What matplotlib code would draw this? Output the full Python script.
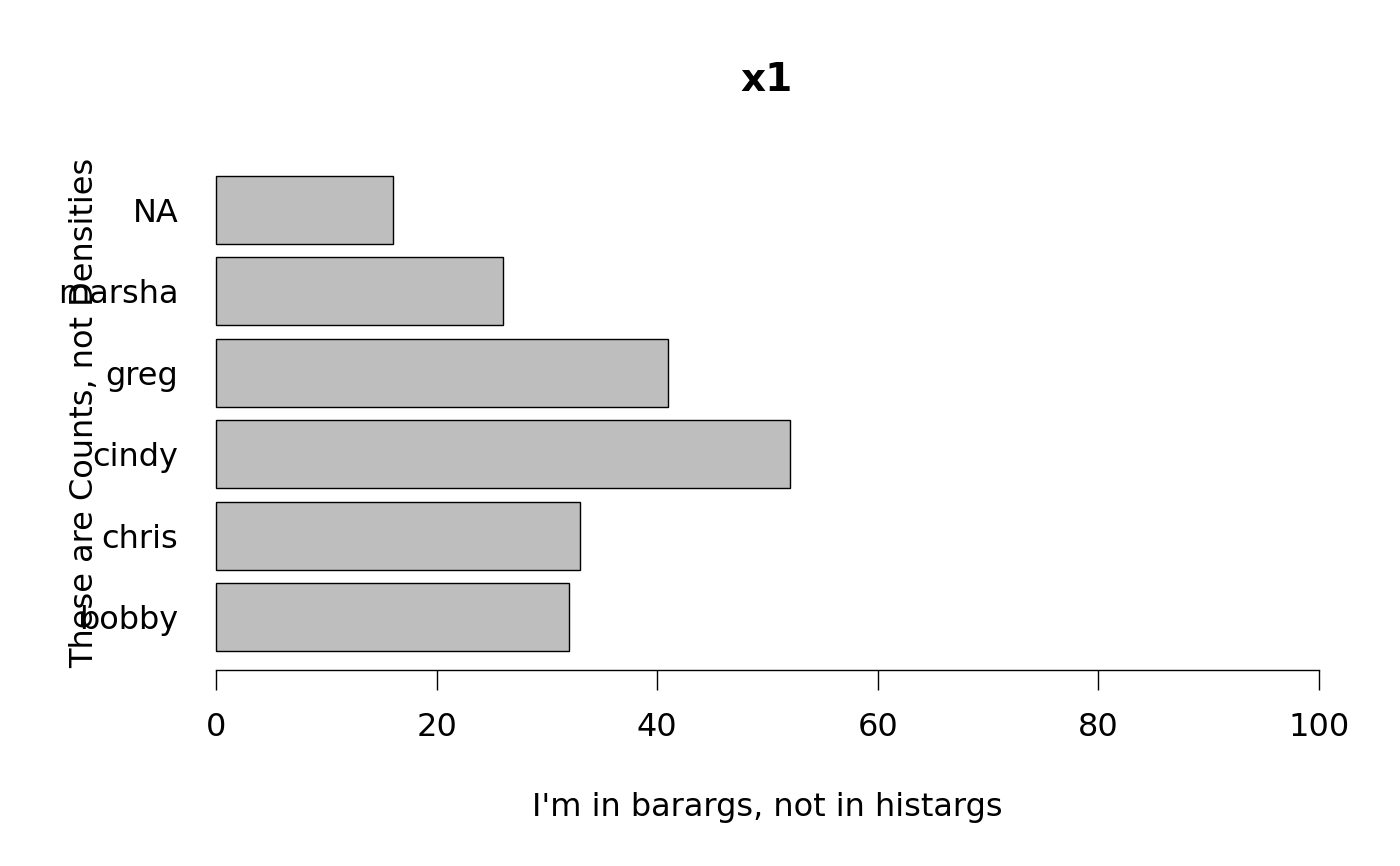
import matplotlib
matplotlib.use("Agg")
import matplotlib.pyplot as plt
import numpy as np

# bar values (R barplot, horiz=TRUE)
names = ["bobby", "chris", "cindy", "greg", "marsha", "NA"]
counts = [32, 33, 52, 41, 26, 16]
xticks = [0, 20, 40, 60, 80, 100]

plt.rcParams['font.family'] = ['DejaVu Sans']

fig = plt.figure(figsize=(14, 8.66), dpi=100)
# plot region in pixels: x 172..1363, y 157..670
ax = fig.add_axes([172/1400, 196/866, (1363-172)/1400, (670-157)/866])

# R barplot layout: width 1, space 0.2
ypos = 0.2 + np.arange(len(names)) * 1.2 + 0.5
ax.barh(ypos, counts, height=1.0, color="#bebebe", edgecolor="black", linewidth=1.0)

ax.set_xlim(-4, 104)
ax.set_ylim(-0.08, 7.48)

for s in ["top", "right", "left"]:
    ax.spines[s].set_visible(False)
ax.spines["bottom"].set_bounds(0, 100)
ax.spines["bottom"].set_linewidth(1.0)

ax.set_xticks(xticks)
ax.set_xticklabels([str(t) for t in xticks], fontsize=23)
ax.tick_params(axis="x", length=14.4, width=1.0, pad=16)

ax.set_yticks(ypos)
ax.set_yticklabels(names, fontsize=23)
ax.tick_params(axis="y", length=0, pad=-4.5)

ax.set_xlabel("I'm in barargs, not in histargs", fontsize=23, labelpad=35)
fig.text(85/1400, 1 - 413/866, "These are Counts, not Densities", fontsize=23,
         rotation=90, ha="center", va="center")
fig.text(767/1400, 1 - 80/866, "x1", fontsize=28, fontweight="bold",
         ha="center", va="center")

fig.savefig("out.png", dpi=100)
